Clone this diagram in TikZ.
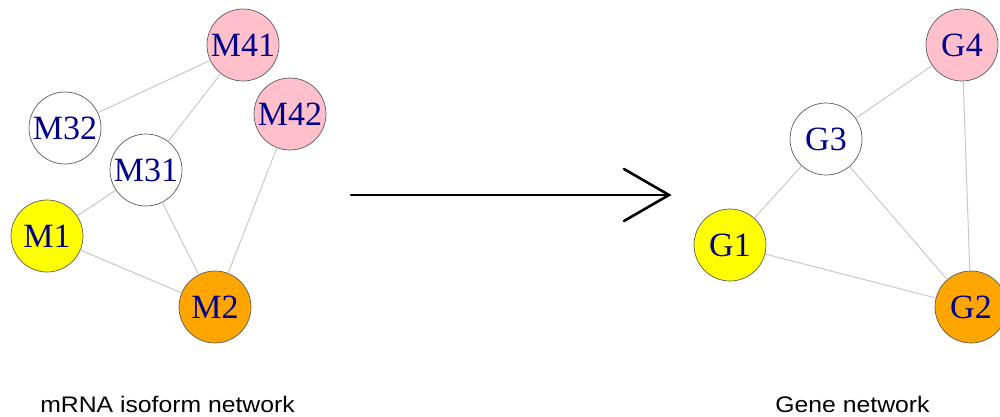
\documentclass[tikz,border=0pt]{standalone}
\usepackage{fontspec}
\setmainfont{Liberation Serif}
\newfontfamily\labelfont{Liberation Sans}
\definecolor{nodeblue}{RGB}{0,0,139}
\definecolor{nodepink}{RGB}{255,192,203}
\definecolor{nodeorange}{RGB}{255,165,0}
\definecolor{nodeyellow}{RGB}{255,255,0}
\definecolor{edgegray}{RGB}{200,200,200}
\definecolor{rimgray}{RGB}{90,90,90}
\newcommand{\wcap}[1]{\scalebox{1.1}[1]{#1}}
\tikzset{
  vert/.style={circle, draw=rimgray, line width=0.7pt, minimum size=72pt, inner sep=0pt,
    font=\fontsize{34}{34}\selectfont, text=nodeblue},
  edge/.style={draw=edgegray, line width=1pt},
  bigarrow/.style={line width=2.6pt, line cap=round},
  caption/.style={anchor=base, inner sep=0pt, font=\labelfont\fontsize{22.5}{22.5}\selectfont}
}
\begin{document}
\begin{tikzpicture}[x=1pt,y=-1pt]
\useasboundingbox (0,0) rectangle (1000,417);
% left network
\node[vert, fill=nodepink] (M41) at (243,45) {M41};
\node[vert, fill=white] (M32) at (65,128) {M32};
\node[vert, fill=nodepink] (M42) at (290,114) {M42};
\node[vert, fill=white] (M31) at (146,170) {M31};
\node[vert, fill=nodeyellow] (M1) at (47,236) {M1};
\node[vert, fill=nodeorange] (M2) at (215,307) {M2};
% right network
\node[vert, fill=nodepink] (G4) at (962,45) {G4};
\node[vert, fill=white] (G3) at (826,139) {G3};
\node[vert, fill=nodeyellow] (G1) at (730,245) {G1};
\node[vert, fill=nodeorange] (G2) at (971,307) {G2};
% edges
\draw[edge] (M41) -- (M32);
\draw[edge] (M41) -- (M31);
\draw[edge] (M31) -- (M1);
\draw[edge] (M31) -- (M2);
\draw[edge] (M1) -- (M2);
\draw[edge] (M42) -- (M2);
\draw[edge] (G4) -- (G3);
\draw[edge] (G4) -- (G2);
\draw[edge] (G3) -- (G1);
\draw[edge] (G3) -- (G2);
\draw[edge] (G1) -- (G2);
% arrow
\coordinate (As) at (351,195);
\coordinate (At) at (669,195);
\coordinate (Au) at (624,169);
\coordinate (Ad) at (624,221);
\draw[bigarrow] (As) -- (At);
\draw[bigarrow, line join=miter] (Au) -- (At) -- (Ad);
% captions
\node[caption] (capL) at (167.5,412) {\wcap{mRNA isoform network}};
\node[caption] (capR) at (852.5,412) {\wcap{Gene network}};
\end{tikzpicture}
\end{document}
